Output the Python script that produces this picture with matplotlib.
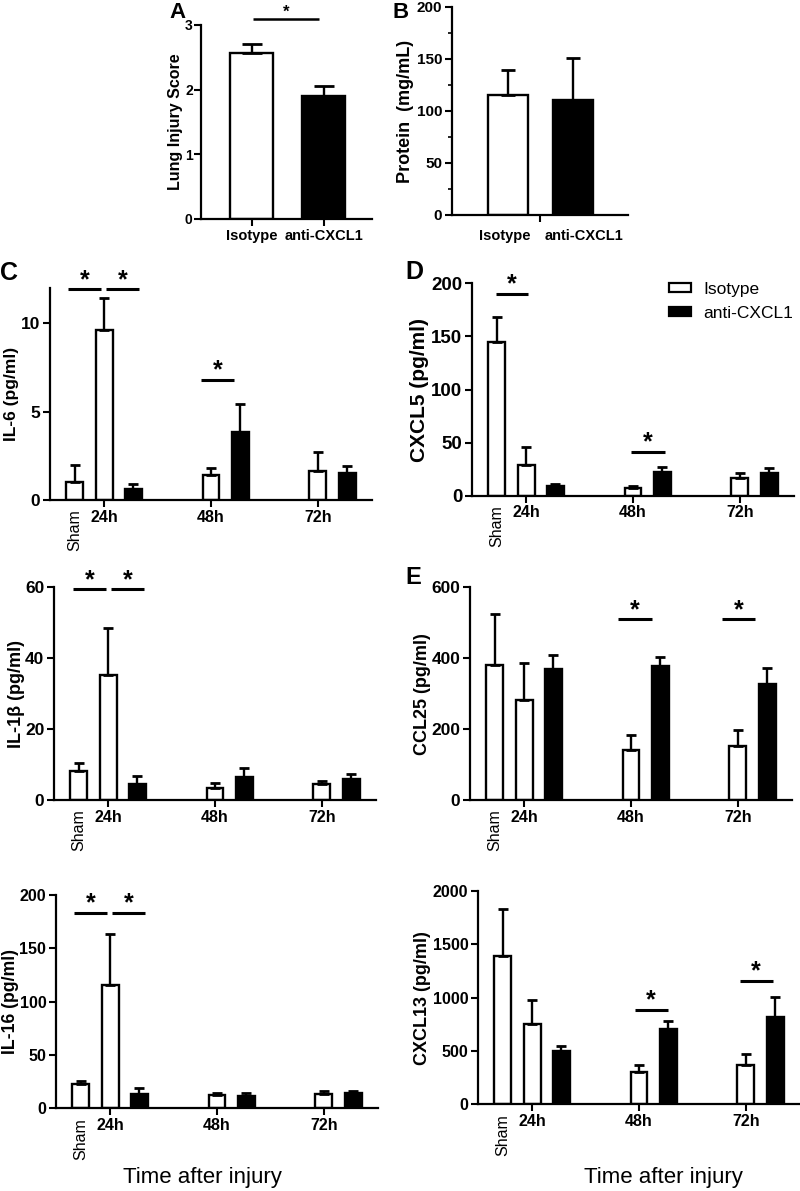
import matplotlib
matplotlib.use("Agg")
import matplotlib.pyplot as plt
from matplotlib.patches import Patch

plt.rcParams["font.family"] = ["Liberation Sans", "DejaVu Sans"]

FIG_W, FIG_H = 800, 1191

groups = ["Isotype", "anti-CXCL1"]
time_labels = ["24h", "48h", "72h"]

# bar order: Sham, 24h iso, 24h anti, 48h iso, 48h anti, 72h iso, 72h anti
bar_groups = ["Isotype", "Isotype", "anti-CXCL1", "Isotype", "anti-CXCL1", "Isotype", "anti-CXCL1"]

lung_injury_mean = [2.57, 1.90]
lung_injury_sem = [0.13, 0.15]
protein_mean = [115.5, 110.6]
protein_sem = [24, 40]

il6_mean = [1.0, 9.6, 0.6, 1.4, 3.85, 1.65, 1.5]
il6_sem = [1.0, 1.8, 0.3, 0.4, 1.55, 1.05, 0.4]
cxcl5_mean = [144.5, 29, 9.4, 7.5, 22.6, 16.4, 21.7]
cxcl5_sem = [23.5, 16.6, 1.6, 1.9, 4.1, 4.6, 4.1]
il1b_mean = [8.3, 35.3, 4.5, 3.3, 6.6, 4.5, 5.8]
il1b_sem = [2.0, 13.1, 2.3, 1.4, 2.3, 0.9, 1.4]
ccl25_mean = [381, 282, 370, 142, 378, 152, 327]
ccl25_sem = [144, 105, 38, 42, 26, 46, 46]
il16_mean = [22.5, 116, 13.1, 12.5, 11.8, 13.4, 14.0]
il16_sem = [3.4, 47, 6.2, 2.1, 2.8, 2.5, 2.5]
cxcl13_mean = [1393, 750, 500, 300, 706, 368, 816]
cxcl13_sem = [435, 228, 47, 66, 75, 104, 187]

COLORS = {"Isotype": "white", "anti-CXCL1": "black"}
BAR_X = [0, 1, 2, 4.65, 5.65, 8.3, 9.3]
TICK_X = [1, 4.65, 8.3]


def add_axes_px(fig, left, top, right, bottom):
    return fig.add_axes([left / FIG_W, 1 - bottom / FIG_H,
                         (right - left) / FIG_W, (bottom - top) / FIG_H])


def style_axis(ax, yticks, tick_fs, ylabel, label_fs, label_x):
    for side in ["top", "right"]:
        ax.spines[side].set_visible(False)
    for side in ["left", "bottom"]:
        ax.spines[side].set_linewidth(1.6)
    ax.set_yticks(yticks, labels=[str(v) for v in yticks],
                  fontweight="bold", fontsize=tick_fs)
    ax.tick_params(axis="both", length=5, width=1.5, pad=2)
    ax.set_ylabel(ylabel, fontweight="bold", fontsize=label_fs)
    ax.yaxis.set_label_coords(label_x, 0.5)


def add_sig(ax, x0, x1, y, lw=2.2, star_fs=18, dy=-2):
    ax.plot([x0, x1], [y, y], color="black", lw=lw, clip_on=False,
            solid_capstyle="butt")
    ax.annotate("*", xy=((x0 + x1) / 2, y), xytext=(0, dy),
                textcoords="offset points", ha="center", va="bottom",
                fontsize=star_fs, fontweight="bold", annotation_clip=False)


def draw_cytokine(ax, mean, sem, ylim, yticks, ylabel, tick_fs, label_fs,
                  label_x, sig):
    colors = [COLORS[g] for g in bar_groups]
    ax.bar(BAR_X, mean, width=0.58, color=colors, edgecolor="black",
           linewidth=1.7, zorder=2)
    ax.errorbar(BAR_X, mean, yerr=[[0] * len(mean), sem], fmt="none",
                ecolor="black", elinewidth=1.7, capsize=3.5, capthick=2,
                zorder=3)
    ax.set_xlim(-0.85, 10.15)
    ax.set_ylim(*ylim)
    style_axis(ax, yticks, tick_fs, ylabel, label_fs, label_x)
    ax.set_xticks(TICK_X, labels=time_labels, fontweight="bold", fontsize=11.5)
    ax.text(0, -0.045, "Sham", transform=ax.get_xaxis_transform(),
            rotation=90, ha="center", va="top", fontsize=11.5)
    for x0, x1, y in sig:
        add_sig(ax, x0, x1, y)


fig = plt.figure(figsize=(FIG_W / 100, FIG_H / 100), dpi=100)

# A: lung injury score
ax_a = add_axes_px(fig, 201, 25, 372, 219)
ax_a.bar([0, 1], lung_injury_mean, width=0.6,
         color=[COLORS[g] for g in groups], edgecolor="black", linewidth=1.7)
ax_a.errorbar([0, 1], lung_injury_mean, yerr=[[0, 0], lung_injury_sem],
              fmt="none", ecolor="black", elinewidth=1.7, capsize=7, capthick=2)
ax_a.set_xlim(-0.70, 1.67)
ax_a.set_ylim(0, 3)
style_axis(ax_a, [0, 1, 2, 3], 10, "Lung Injury Score", 11.5, -0.108)
ax_a.tick_params(axis="y", pad=1)
ax_a.set_xticks([0, 1], labels=groups, fontweight="bold", fontsize=10.5)
add_sig(ax_a, 0.02, 0.94, 3.1, lw=1.8, star_fs=12, dy=-1)

# B: protein
ax_b = add_axes_px(fig, 452, 7, 628, 215)
ax_b.bar([0, 1], protein_mean, width=0.62,
         color=[COLORS[g] for g in groups], edgecolor="black", linewidth=1.7)
ax_b.errorbar([0, 1], protein_mean, yerr=[[0, 0], protein_sem],
              fmt="none", ecolor="black", elinewidth=1.7, capsize=5, capthick=2)
ax_b.set_xlim(-0.86, 1.85)
ax_b.set_ylim(0, 200)
style_axis(ax_b, [0, 50, 100, 150, 200], 11, "Protein  (mg/mL)", 13, -0.216)
ax_b.set_yticks(range(25, 200, 50), minor=True)
ax_b.tick_params(axis="y", which="minor", length=3, width=1.2)
ax_b.set_xticks([0.5], labels=[""])
for x, g in zip([-0.05, 1.17], groups):
    ax_b.text(x, -0.1, g, transform=ax_b.get_xaxis_transform(), ha="center",
              va="center", fontweight="bold", fontsize=10.5)

# C: IL-6
ax_c = add_axes_px(fig, 50, 287.6, 372, 500)
draw_cytokine(ax_c, il6_mean, il6_sem, (0, 12), [0, 5, 10], "IL-6 (pg/ml)",
              12.5, 12.5, -0.096,
              [(-0.24, 0.89, 11.9), (1.06, 2.18, 11.9), (4.30, 5.43, 6.8)])

# D: CXCL5
ax_d = add_axes_px(fig, 472, 283.3, 794, 495.7)
draw_cytokine(ax_d, cxcl5_mean, cxcl5_sem, (0, 200), [0, 50, 100, 150, 200],
              "CXCL5 (pg/ml)", 13.5, 15, -0.134,
              [(-0.03, 1.06, 190), (4.57, 5.73, 41.5)])
handles = [Patch(facecolor=COLORS[g], edgecolor="black", linewidth=1.6)
           for g in groups]
ax_d.legend(handles, groups, loc="upper left",
            bbox_to_anchor=(669 / FIG_W, 1 - 282 / FIG_H),
            bbox_transform=fig.transFigure, frameon=False, fontsize=12.5,
            handlelength=1.27, handleheight=0.42, handletextpad=0.7,
            labelspacing=0.5, borderpad=0, borderaxespad=0)

# IL-1beta
ax_il1 = add_axes_px(fig, 54, 587.3, 376, 800)
draw_cytokine(ax_il1, il1b_mean, il1b_sem, (0, 60), [0, 20, 40, 60],
              "IL-1β (pg/ml)", 12.5, 13, -0.09,
              [(-0.2, 0.92, 59.5), (1.09, 2.22, 59.5)])

# E: CCL25
ax_e = add_axes_px(fig, 470, 587.3, 792, 800)
draw_cytokine(ax_e, ccl25_mean, ccl25_sem, (0, 600), [0, 200, 400, 600],
              "CCL25 (pg/ml)", 12.5, 13, -0.121,
              [(4.2, 5.36, 510), (7.75, 8.9, 510)])

# IL-16
ax_il16 = add_axes_px(fig, 56, 895, 378, 1108.3)
draw_cytokine(ax_il16, il16_mean, il16_sem, (0, 200), [0, 50, 100, 150, 200],
              "IL-16 (pg/ml)", 11.5, 12.7, -0.115,
              [(-0.24, 0.89, 183.4), (1.06, 2.18, 183.4)])

# CXCL13
ax_13 = add_axes_px(fig, 478, 891, 800, 1104.3)
draw_cytokine(ax_13, cxcl13_mean, cxcl13_sem, (0, 2000),
              [0, 500, 1000, 1500, 2000], "CXCL13 (pg/ml)", 11.5, 13, -0.146,
              [(4.5, 5.63, 884), (8.09, 9.22, 1159)])

for x, txt in [(202, "Time after injury"), (663, "Time after injury")]:
    fig.text(x / FIG_W, 1 - 1178 / FIG_H, txt, ha="center", va="center",
             fontsize=16)

for x, y, letter, fs in [(177, 13, "A", 16), (401, 13, "B", 16),
                         (9, 273, "C", 18), (414, 272, "D", 18),
                         (413, 577, "E", 17)]:
    fig.text(x / FIG_W, 1 - y / FIG_H, letter, ha="center", va="center",
             fontsize=fs, fontweight="bold")

fig.savefig("out.png", dpi=100)
